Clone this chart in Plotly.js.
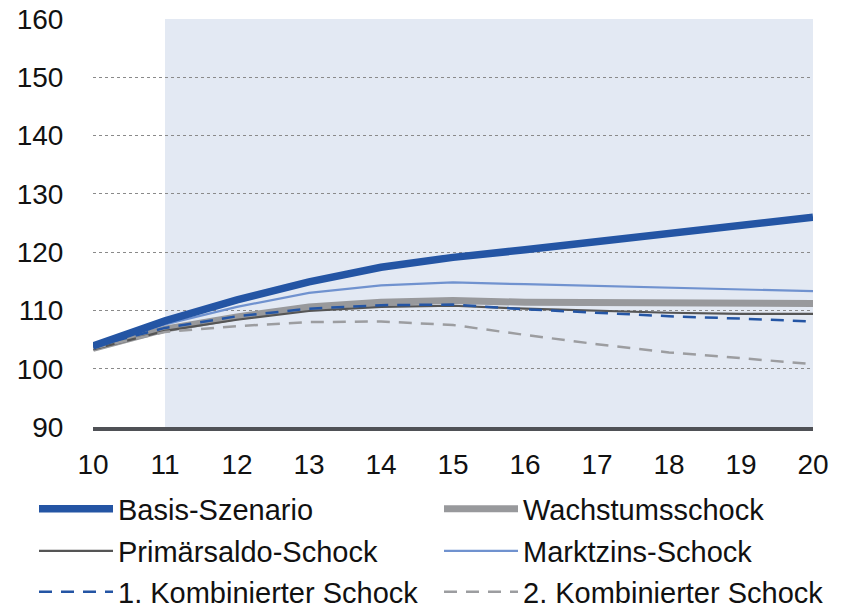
<!DOCTYPE html>
<html>
<head>
<meta charset="utf-8">
<script src="https://cdn.plot.ly/plotly-3.0.1.min.js"></script>
<style>html,body{margin:0;padding:0;background:#fff;}#chart{width:842px;height:607px;}</style>
</head>
<body>
<div id="chart"></div>
<script>
const years = [10, 11, 12, 13, 14, 15, 16, 17, 18, 19, 20];
const basis      = [103.9, 108.2, 111.8, 114.9, 117.4, 119.1, 120.4, 121.8, 123.2, 124.6, 126.0];
const wachstum   = [103.5, 106.8, 108.9, 110.6, 111.4, 111.7, 111.4, 111.3, 111.2, 111.2, 111.2];
const primaer    = [103.3, 106.5, 108.4, 109.9, 110.6, 110.8, 110.3, 109.9, 109.6, 109.4, 109.4];
const marktzins  = [104.0, 107.6, 110.6, 113.0, 114.3, 114.8, 114.5, 114.2, 113.9, 113.6, 113.3];
const komb1      = [103.8, 107.0, 109.0, 110.3, 110.9, 111.0, 110.2, 109.6, 109.0, 108.6, 108.1];
const komb2      = [103.5, 106.3, 107.3, 108.0, 108.1, 107.5, 105.8, 104.2, 102.8, 101.8, 100.8];
const names = ["Basis-Szenario", "Wachstumsschock", "Primärsaldo-Schock", "Marktzins-Schock", "1. Kombinierter Schock", "2. Kombinierter Schock"];
const yTicks = [90, 100, 110, 120, 130, 140, 150, 160];
const xTicks = years;
const shadeStart = 11;

const FONT = "Liberation Sans, Arial, sans-serif";
const traces = [
  {x: years, y: wachstum, name: names[1], legend: "legend2", line: {color: "#98999c", width: 7}},
  {x: years, y: primaer, name: names[2], legend: "legend3", line: {color: "#555555", width: 2.2}},
  {x: years, y: komb2, name: names[5], legend: "legend6", line: {color: "#9c9da0", width: 2.5, dash: "13px,9px"}},
  {x: years, y: komb1, name: names[4], legend: "legend5", line: {color: "#2455a4", width: 2.5, dash: "13px,9px"}},
  {x: years, y: marktzins, name: names[3], legend: "legend4", line: {color: "#7092cf", width: 2.2}},
  {x: years, y: basis, name: names[0], legend: "legend", line: {color: "#2455a4", width: 7.5}}
].map(t => Object.assign({type: "scatter", mode: "lines", hoverinfo: "skip"}, t));

function leg(xpx, ypx) {
  return {
    orientation: "h", xref: "container", yref: "container", x: xpx / 842, y: 1 - ypx / 607,
    xanchor: "left", yanchor: "middle",
    font: {family: FONT, size: 29, color: "#111"}, itemwidth: 74, bgcolor: "rgba(0,0,0,0)"
  };
}

const layout = {
  width: 842, height: 607,
  margin: {l: 93, r: 29, t: 19, b: 180},
  paper_bgcolor: "#fff", plot_bgcolor: "#fff",
  font: {family: FONT, size: 28, color: "#111"},
  showlegend: true,
  legend: leg(34, 509),
  legend2: leg(439, 509),
  legend3: leg(34, 551),
  legend4: leg(439, 551),
  legend5: leg(34, 592),
  legend6: leg(439, 592),
  xaxis: {
    range: [10, 20], tickmode: "array", tickvals: xTicks, ticktext: xTicks.map(String),
    showgrid: false, zeroline: false, showline: true, linecolor: "#4f5156", linewidth: 4,
    ticks: "outside", ticklen: 9, tickcolor: "rgba(0,0,0,0)",
    tickfont: {family: FONT, size: 28, color: "#111"}
  },
  yaxis: {
    range: [90, 160], tickmode: "array", tickvals: yTicks, ticktext: yTicks.map(String),
    showgrid: true, gridcolor: "#8a8a8a", gridwidth: 1, griddash: "dot", zeroline: false, showline: false,
    ticks: "outside", ticklen: 23, tickcolor: "rgba(0,0,0,0)",
    tickfont: {family: FONT, size: 28, color: "#111"}
  },
  shapes: [{
    type: "rect", xref: "x", yref: "y", x0: shadeStart, x1: 20, y0: 89.2, y1: 160,
    fillcolor: "#e3e9f3", line: {width: 0}, layer: "below"
  }]
};

Plotly.newPlot("chart", traces, layout, {displayModeBar: false, staticPlot: true});
</script>
</body>
</html>
